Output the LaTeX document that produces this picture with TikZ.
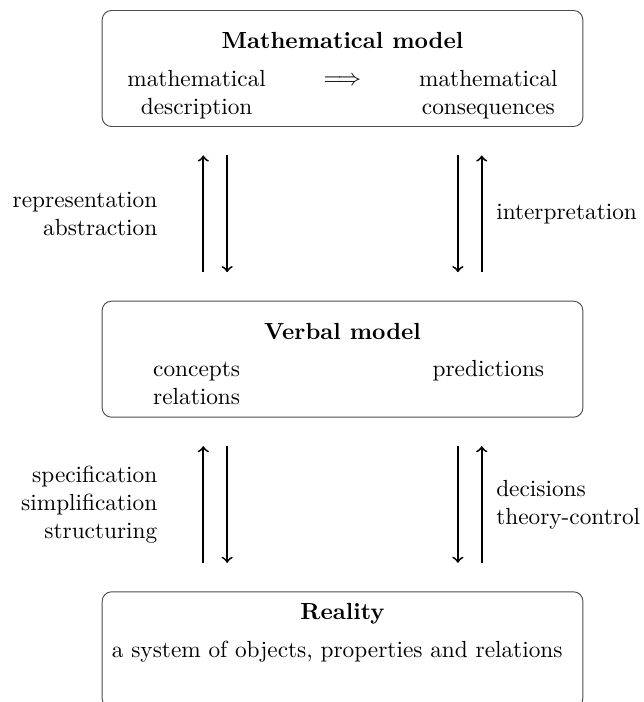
\documentclass[tikz,border=0pt]{standalone}
\usepackage{amsmath, amssymb}
\usetikzlibrary{positioning, calc}

\begin{document}
\begin{tikzpicture}[
  box/.style={draw=black!70, rounded corners=4pt, minimum width=72.5mm, minimum height=17.5mm},
  title/.style={font=\bfseries, anchor=base},
  txt/.style={anchor=base, align=center},
  arrow/.style={->, thick, shorten >=4.3mm, shorten <=4.3mm},
  node distance=26.2mm
]
\useasboundingbox (0,0) rectangle (9.713,-10.588);
\node[box] (math) at (5.166,-1.033) {};
\node[box, below=of math] (verbal) {};
\node[box, below=of verbal] (reality) {};

\node[title] (mtitle) at ($(math.north)+(0,-0.58)$) {Mathematical model};
\node[txt] (mdesc) at ($(math.north)+(-2.2,-1.57)$) {mathematical\\description};
\node[txt] (mimp) at ($(math.north)+(0,-1.14)$) {$\Longrightarrow$};
\node[txt] (mcons) at ($(math.north)+(2.2,-1.57)$) {mathematical\\consequences};

\node[title] (vtitle) at ($(verbal.north)+(0,-0.58)$) {Verbal model};
\node[txt] (vconc) at ($(verbal.north)+(-2.2,-1.57)$) {concepts\\relations};
\node[txt] (vpred) at ($(verbal.north)+(2.2,-1.14)$) {predictions};

\node[title] (rtitle) at ($(reality.north)+(0,-0.43)$) {Reality};
\node[txt] (rsys) at ($(reality.north)+(-0.08,-1.0)$) {a system of objects, properties and relations};

\draw[arrow] ([xshift=-21mm]verbal.north) -- ([xshift=-21mm]math.south)
  node[midway, left=16pt, align=right] (repr) {representation\\abstraction};
\draw[arrow] ([xshift=-17.4mm]math.south) -- ([xshift=-17.4mm]verbal.north);
\draw[arrow] ([xshift=17.4mm]math.south) -- ([xshift=17.4mm]verbal.north);
\draw[arrow] ([xshift=21mm]verbal.north) -- ([xshift=21mm]math.south)
  node[midway, right=2.5pt, align=left] (interp) {interpretation};

\draw[arrow] ([xshift=-21mm]reality.north) -- ([xshift=-21mm]verbal.south)
  node[midway, left=16pt, align=right] (spec) {specification\\simplification\\structuring};
\draw[arrow] ([xshift=-17.4mm]verbal.south) -- ([xshift=-17.4mm]reality.north);
\draw[arrow] ([xshift=17.4mm]verbal.south) -- ([xshift=17.4mm]reality.north);
\draw[arrow] ([xshift=21mm]reality.north) -- ([xshift=21mm]verbal.south)
  node[midway, right=2.5pt, align=left] (dec) {decisions\\theory-control};
\end{tikzpicture}
\end{document}
